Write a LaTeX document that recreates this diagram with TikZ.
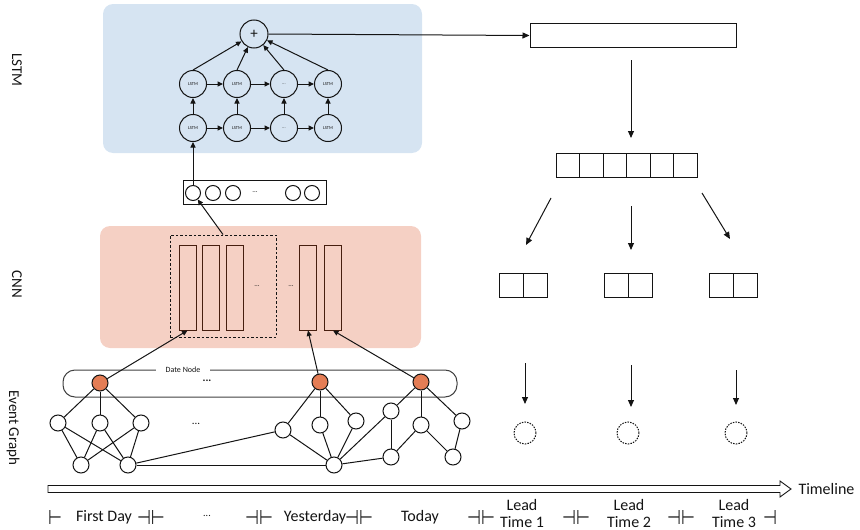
\documentclass[tikz,border=0pt]{standalone}
\usepackage{fontspec}
\setmainfont{Carlito}
\newfontfamily\symfont{DejaVu Sans}
\usetikzlibrary{arrows.meta}

\definecolor{lstmbg}{RGB}{214,228,242}
\definecolor{cnnbg}{RGB}{245,208,196}
\definecolor{datefill}{RGB}{228,125,85}
\definecolor{barline}{RGB}{70,30,15}
\definecolor{ink}{RGB}{20,20,20}

\newcommand{\tickglyph}[1]{\scalebox{0.8}[1]{\symfont\fontsize{20}{20}\selectfont #1}}

\tikzset{
  arr/.style={-{Triangle[length=5.5pt,width=5pt]}},
  bigarr/.style={-{Triangle[length=7pt,width=6pt]}},
  lstmcell/.style={circle, draw, minimum size=27pt, inner sep=0pt,
    font=\fontsize{4.5}{5}\selectfont},
  invec/.style={circle, draw, minimum size=15pt, inner sep=0pt},
  vnode/.style={circle, draw, fill=white, minimum size=16pt, inner sep=0pt},
  dnode/.style={vnode, fill=datefill},
  barbox/.style={draw=barline, minimum width=17pt, minimum height=85pt, inner sep=0pt},
  cellbox/.style={draw, minimum width=23.5pt, minimum height=24pt, inner sep=0pt},
  pairbox/.style={draw, minimum width=24pt, minimum height=24pt, inner sep=0pt},
  outcircle/.style={circle, draw, dash pattern=on 1.5pt off 1.2pt, minimum size=22pt, inner sep=0pt},
  sidelabel/.style={rotate=-90, font=\fontsize{15}{17}\selectfont},
  timelabel/.style={font=\fontsize{16}{17}\selectfont, align=center, inner sep=0pt},
  tickmark/.style={inner sep=0pt},
  smalldots/.style={font=\fontsize{7}{7}\selectfont, inner sep=0pt},
}

\begin{document}
\begin{tikzpicture}[x=1pt, y=-1pt, line width=1pt, color=ink]
\useasboundingbox (0,0) rectangle (860,530);

% ---------- background panels ----------
\node[fill=lstmbg, rounded corners=10pt, minimum width=319pt, minimum height=149pt, inner sep=0pt] (lstmpanel) at (262.5,78.5) {};
\node[fill=cnnbg, rounded corners=10pt, minimum width=321pt, minimum height=122pt, inner sep=0pt] (cnnpanel) at (260.5,287) {};

% ---------- layer labels ----------
\node[sidelabel] (lblLSTM) at (17,70) {LSTM};
\node[sidelabel] (lblCNN) at (17,284) {CNN};
\node[sidelabel] (lblGraph) at (13,428) {Event Graph};

% ---------- LSTM block ----------
\node[circle, draw, minimum size=28pt, inner sep=0pt, font=\fontsize{15}{15}\selectfont] (plus) at (254,34) {+};
\foreach \i/\x/\t in {1/193/LSTM, 2/237/LSTM, 3/284/{...}, 4/328/LSTM} {
  \node[lstmcell] (t\i) at (\x,84) {\t};
  \node[lstmcell] (b\i) at (\x,128) {\t};
}
\foreach \a/\b in {1/2, 2/3, 3/4} {
  \draw[arr] (t\a) -- (t\b);
  \draw[arr] (b\a) -- (b\b);
}
\foreach \i in {1,...,4} {
  \draw[arr] (b\i) -- (t\i);
  \draw[arr] (t\i.north) -- (plus);
}

% ---------- daily feature vector ----------
\node[draw, minimum width=143pt, minimum height=24pt, inner sep=0pt] (vec) at (254.5,192) {};
\foreach \i/\x in {1/193, 2/213, 3/233, 4/293, 5/312}
  \node[invec] (v\i) at (\x,193) {};
\node[smalldots] (vdots) at (255,192) {...};
\draw[arr] (v1.north) -- (b1);

% ---------- CNN block ----------
\node[draw, dash pattern=on 2.5pt off 2pt, minimum width=106pt, minimum height=102pt, inner sep=0pt] (win) at (223,286) {};
\foreach \i/\x in {1/187.5, 2/211, 3/234.5, 4/308, 5/333}
  \node[barbox] (bar\i) at (\x,287.5) {};
\node[smalldots] (cdots1) at (257,286) {...};
\node[smalldots] (cdots2) at (291,286) {...};
\draw[arr] (win.north) -- (v1);

% ---------- date nodes ----------
\node[draw=black!75, rounded corners=12pt, minimum width=394pt, minimum height=27pt, inner sep=0pt] (band) at (260,383.5) {};
\node[fill=white, inner xsep=10pt, inner ysep=1pt, font=\fontsize{8}{8}\selectfont] (bandlbl) at (183,370) {Date Node};
\node[font=\bfseries\fontsize{11}{11}\selectfont, inner sep=0pt] (banddots) at (207,381) {...};

\node[dnode] (d1) at (100,383) {};
\node[dnode] (d2) at (320,382) {};
\node[dnode] (d3) at (421,382) {};

\draw[arr] (d1) -- (bar1.south);
\draw[arr] (d2) -- (bar4.south);
\draw[arr] (d3) -- (bar5.south);

% ---------- event graph ----------
\node[vnode] (a1) at (58,423) {};
\node[vnode] (a2) at (100,423) {};
\node[vnode] (a3) at (141,423) {};
\node[vnode] (e1) at (81,465) {};
\node[vnode] (e2) at (128,465) {};
\node[font=\fontsize{11}{11}\selectfont, inner sep=0pt] (gdots) at (196,424) {...};

\node[vnode] (gA) at (283,430) {};
\node[vnode] (gB) at (320,425) {};
\node[vnode] (gC) at (356,421) {};
\node[vnode] (gD) at (334,465) {};

\node[vnode] (gE) at (391,411) {};
\node[vnode] (gF) at (421,425) {};
\node[vnode] (gG) at (462,421) {};
\node[vnode] (gH) at (391,457) {};
\node[vnode] (gI) at (453,457) {};

\foreach \u/\v in {d1/a1, d1/a2, d1/a3,
                   a1/e1, a1/e2, a2/e1, a2/e2, a3/e1, a3/e2,
                   e2/gA, e2/gD,
                   d2/gA, d2/gB, d2/gC, gA/gD, gB/gD, gC/gD,
                   gD/gE, gD/gH,
                   d3/gE, d3/gF, d3/gG, gE/gH, gF/gH, gF/gI, gG/gI}
  \draw (\u) -- (\v);

% ---------- prediction side ----------
\node[draw, minimum width=206pt, minimum height=24pt, inner sep=0pt] (summary) at (633,35.5) {};
\draw[bigarr] (plus.east) -- (summary.west);

\foreach \i in {1,...,6}
  \node[cellbox] (s\i) at ({556+23.5*(\i-0.5)},165) {};

\coordinate (sumout) at (631,60);
\coordinate (sumin) at (631,138);
\draw[bigarr] (sumout) -- (sumin);

\foreach \k/\x in {1/523, 2/628, 3/733} {
  \node[pairbox] (p\k a) at (\x-12,285) {};
  \node[pairbox] (p\k b) at (\x+12,285) {};
}

\coordinate (fanL0) at (551,198);  \coordinate (fanL1) at (526,245);
\coordinate (fanM0) at (631,206);  \coordinate (fanM1) at (631,250);
\coordinate (fanR0) at (702,193);  \coordinate (fanR1) at (730,239);
\draw[bigarr] (fanL0) -- (fanL1);
\draw[bigarr] (fanM0) -- (fanM1);
\draw[bigarr] (fanR0) -- (fanR1);

\node[outcircle] (o1) at (525,433) {};
\node[outcircle] (o2) at (628,433) {};
\node[outcircle] (o3) at (736,433) {};

\coordinate (dn10) at (525,363);  \coordinate (dn11) at (525,404);
\coordinate (dn20) at (631,365);  \coordinate (dn21) at (631,407);
\coordinate (dn30) at (736,370);  \coordinate (dn31) at (736,405);
\draw[bigarr] (dn10) -- (dn11);
\draw[bigarr] (dn20) -- (dn21);
\draw[bigarr] (dn30) -- (dn31);

% ---------- timeline ----------
\draw[line width=0.9pt] (48,485.5) -- (780,485.5) -- (780,481) -- (791,489)
  -- (780,497) -- (780,492.5) -- (48,492.5) -- cycle;
\node[timelabel, anchor=west] (tl) at (798,489) {Timeline};

\node[tickmark] (k0) at (55,517) {\tickglyph{⊢}};
\node[timelabel] (day1) at (104,517) {First Day};
\node[tickmark] (k1) at (151,517) {\tickglyph{⊣⊢}};
\node[timelabel, font=\fontsize{10}{10}\selectfont] (tdots) at (207,516) {...};
\node[tickmark] (k2) at (259,517) {\tickglyph{⊣⊢}};
\node[timelabel] (yday) at (315,517) {Yesterday};
\node[tickmark] (k3) at (359,517) {\tickglyph{⊣⊢}};
\node[timelabel] (today) at (420,517) {Today};
\node[tickmark] (k4) at (481,517) {\tickglyph{⊣⊢}};
\node[timelabel] (lt1) at (522,513) {Lead\\Time 1};
\node[tickmark] (k5) at (576,517) {\tickglyph{⊣⊢}};
\node[timelabel] (lt2) at (629,513) {Lead\\Time 2};
\node[tickmark] (k6) at (681,517) {\tickglyph{⊣⊢}};
\node[timelabel] (lt3) at (734,513) {Lead\\Time 3};
\node[tickmark] (k7) at (770,517) {\tickglyph{⊣}};
\end{tikzpicture}
\end{document}
